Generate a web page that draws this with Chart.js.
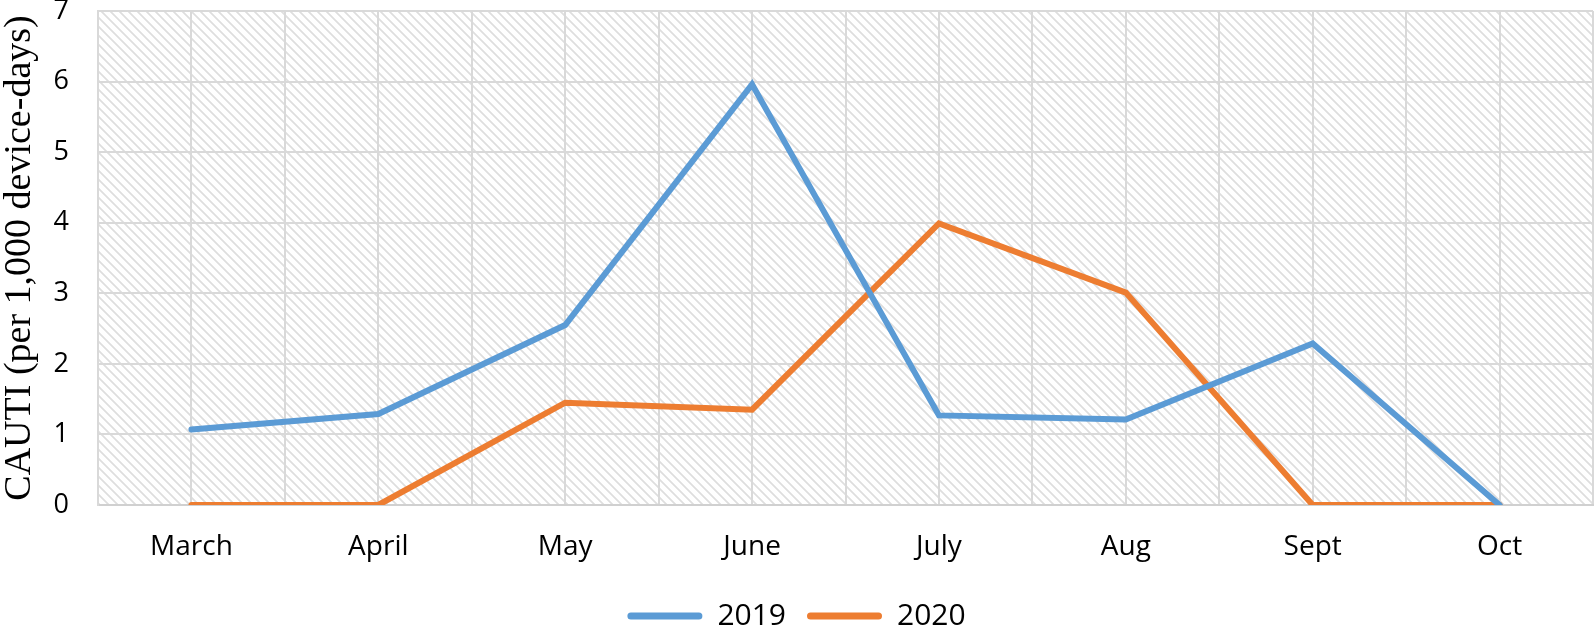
<!DOCTYPE html>
<html><head><meta charset="utf-8">
<script src="https://cdn.jsdelivr.net/npm/chart.js@4"></script>
<style>html,body{margin:0;padding:0;background:#fff}#wrap{width:1595px;height:627px}</style>
</head><body><div id="wrap"><canvas id="c" width="1595" height="627"></canvas></div>
<script>
const categories = ['March','April','May','June','July','Aug','Sept','Oct'];
const series2019 = [1.07, 1.29, 2.55, 5.96, 1.27, 1.21, 2.29, 0];
const series2020 = [0, 0, 1.45, 1.35, 3.99, 3.01, 0, 0];
const yTicks = [0,1,2,3,4,5,6,7];

function makePattern(){
  const p = document.createElement('canvas'); p.width=9; p.height=9;
  const g = p.getContext('2d');
  g.fillStyle='#ffffff'; g.fillRect(0,0,9,9);
  g.strokeStyle='#dedede'; g.lineWidth=1.7;
  g.beginPath(); g.moveTo(-2,-2); g.lineTo(11,11);
  g.moveTo(-11,-2); g.lineTo(2,11); g.moveTo(7,-2); g.lineTo(20,11); g.stroke();
  return p;
}
const bgPlugin = {id:'bg', beforeDraw(chart){
  const {ctx, chartArea:a} = chart;
  ctx.save(); ctx.fillStyle = ctx.createPattern(makePattern(),'repeat');
  ctx.fillRect(a.left,a.top,a.right-a.left,a.bottom-a.top); ctx.restore();
}};
const toPts = arr => arr.map((v,i)=>({x:i,y:v}));
const defaultLabels = Chart.defaults.plugins.legend.labels.generateLabels;
new Chart(document.getElementById('c'), {
  type:'line',
  data:{datasets:[
    {label:'2019', data:toPts(series2019), borderColor:'#5b9bd5', backgroundColor:'#5b9bd5', borderWidth:6, pointRadius:0, borderCapStyle:'round', tension:0},
    {label:'2020', data:toPts(series2020), borderColor:'#ed7d31', backgroundColor:'#ed7d31', borderWidth:6, pointRadius:0, borderCapStyle:'round', tension:0}
  ]},
  options:{
    responsive:false, animation:false, devicePixelRatio:1,
    layout:{padding:{top:11,right:2,left:0,bottom:-14}},
    plugins:{
      legend:{position:'bottom', labels:{boxWidth:75, boxHeight:7, useBorderRadius:true, borderRadius:3.5, color:'#000', font:{family:'Open Sans', size:30}, padding:21,
        generateLabels(chart){ return defaultLabels(chart).map(l=>Object.assign(l,{lineWidth:0})); }}},
      tooltip:{enabled:false}
    },
    scales:{
      x:{type:'linear', min:-0.5, max:7.5,
        afterBuildTicks(s){ s.ticks = []; for(let i=-0.5;i<=7.5;i+=0.5) s.ticks.push({value:i}); },
        afterFit(s){ s.height=75; s.paddingLeft=0; s.paddingRight=0; },
        grid:{color:'#d9d9d9', lineWidth:2, drawTicks:false},
        border:{color:'#d0d0d0', width:2},
        ticks:{autoSkip:false, maxRotation:0, padding:25, color:'#000', font:{family:'Open Sans', size:28},
          callback:v=> Number.isInteger(v) ? categories[v] : ''}
      },
      y:{min:0, max:7,
        afterBuildTicks(s){ s.ticks = yTicks.map(v=>({value:v})); },
        afterFit(s){ s.width=98; s.paddingTop=0; s.paddingBottom=0; },
        grid:{color:'#d9d9d9', lineWidth:2, drawTicks:false},
        border:{color:'#d9d9d9', width:2},
        ticks:{padding:29, color:'#000', font:{family:'Open Sans', size:27}},
        title:{display:true, text:'CAUTI (per 1,000 device-days)', color:'#000', font:{family:'Liberation Serif', size:38}, padding:{top:-3,bottom:0}}
      }
    }
  },
  plugins:[bgPlugin]
});
</script></body></html>
